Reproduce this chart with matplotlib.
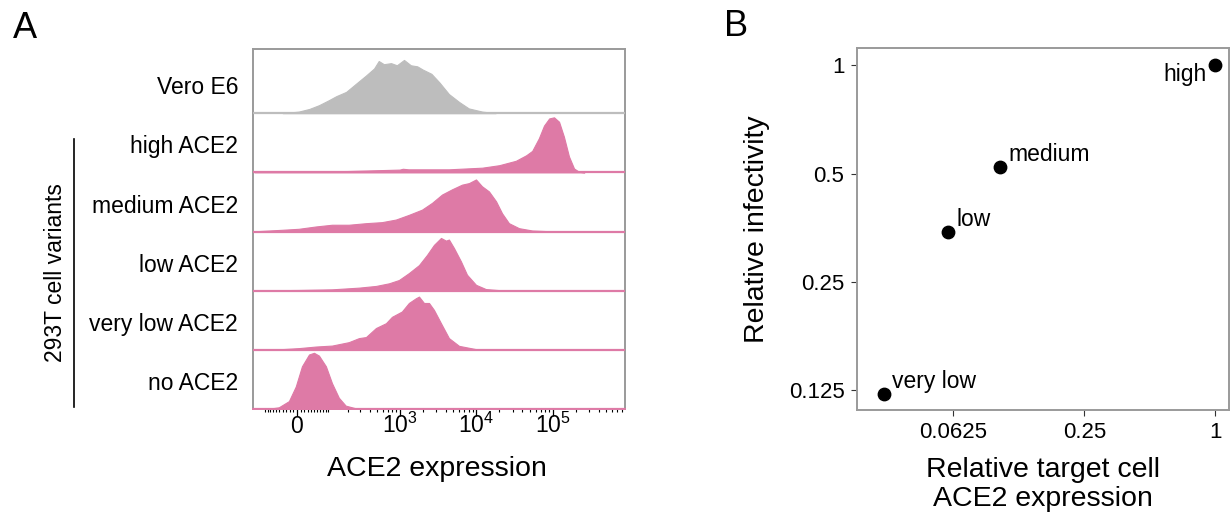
import matplotlib.pyplot as plt
from matplotlib.ticker import FixedLocator

plt.rcParams['font.family'] = ['Liberation Sans', 'DejaVu Sans']
plt.rcParams['mathtext.fontset'] = 'custom'
plt.rcParams['mathtext.rm'] = 'Liberation Sans'
plt.rcParams['mathtext.it'] = 'Liberation Sans:italic'

#%% Data - panel A: ACE2 histograms (x = ACE2 expression, y = % of mode)
row_names = ['Vero E6', 'high ACE2', 'medium ACE2', 'low ACE2', 'very low ACE2', 'no ACE2']

vero_x = [-40, 5, 35, 65, 100, 135, 190, 260, 360, 460, 530, 620, 770, 920, 1140,
          1400, 1700, 2000, 2600, 3300, 4400, 6000, 8000, 12000, 18000]
vero_y = [0, 3, 8, 15, 24, 32, 40, 55, 71, 84, 98, 92, 94, 90, 100,
          90, 88, 82, 74, 58, 36, 21, 9, 3, 0]

high_x = [-150, 5, 200, 1000, 1100, 1300, 4400, 12000, 20000, 33000, 45000, 54000,
          66000, 77000, 90000, 104000, 121000, 140000, 163000, 190000, 221000, 260000]
high_y = [1, 1.5, 2.4, 5, 6.5, 5.5, 5.5, 8.5, 13, 21, 31, 39,
          62, 85, 98, 100, 92, 65, 29, 7, 1, 0]

medium_x = [-140, -42, 5, 55, 115, 207, 358, 584, 893, 1320, 1960, 2650, 3580,
            4830, 6530, 8060, 9950, 11900, 14700, 18200, 21800, 26800, 36300, 53700, 89500]
medium_y = [0.6, 3.3, 5.2, 9.7, 13, 13, 16, 18, 23, 32, 42, 55, 71,
            81, 90, 93, 100, 87, 77, 58, 35, 16, 6.4, 2, 0.6]

low_x = [-140, 5, 115, 287, 487, 723, 978, 1320, 1790, 2275, 2810, 3470, 4030,
         4410, 5135, 6330, 7590, 9950, 13400, 21800]
low_y = [0.6, 1.3, 2.5, 5.7, 8.9, 13.8, 20, 33, 48, 67, 86, 99, 94,
         96, 80, 55, 30, 11, 3, 0.6]

verylow_x = [-140, -42, 5, 55, 115, 207, 287, 358, 487, 660, 792, 1070, 1320, 1635,
             1790, 2080, 2420, 2810, 3470, 4410, 5970, 9950, 14700]
verylow_y = [0, 1.3, 3.2, 6.2, 8, 14.4, 22, 24, 41, 50, 62, 72, 88, 97,
             100, 88, 88, 75, 50, 22, 7.5, 1.3, 0]

no_x = [-86, -52, -22, -3, 14, 34, 49, 65, 90, 115, 148, 187, 260, 392]
no_y = [0.5, 3, 14, 40, 76, 97, 100, 95, 76, 46, 20, 6, 1.2, 0]

major_ticks = [0, 1e3, 1e4, 1e5]
major_labels = ['0', r'$10^3$', r'$10^4$', r'$10^5$']
minor_ticks = ([-k * 10 for k in range(1, 11)] + [k * 10 for k in range(1, 10)]
               + [k * 100 for k in range(1, 10)] + [k * 1000 for k in range(2, 10)]
               + [k * 10000 for k in range(2, 10)] + [k * 100000 for k in range(2, 9)])

#%% Data - panel B
points = ['high', 'medium', 'low', 'very low']
rel_expression = [1.0, 0.103, 0.059, 0.030]
rel_infectivity = [1.0, 0.52, 0.344, 0.122]
b_xticks = [0.0625, 0.25, 1]
b_xticklabels = ['0.0625', '0.25', '1']
b_yticks = [0.125, 0.25, 0.5, 1]
b_yticklabels = ['0.125', '0.25', '0.5', '1']

#%% Figure
W, H = 1231, 518
fig = plt.figure(figsize=(W / 100, H / 100), dpi=100)

pink = '#DE7AA6'
grey_fill = '#BDBDBD'
frame = '#9A9A9A'

# Panel A: one axes, rows stacked with a baseline each
axa = fig.add_axes([253 / W, 1 - 409 / H, 372 / W, 360 / H])
axa.set_xscale('asinh', linear_width=91)

curves = [(vero_x, vero_y), (high_x, high_y), (medium_x, medium_y),
          (low_x, low_y), (verylow_x, verylow_y), (no_x, no_y)]
row_scale = [0.90, 0.93, 0.88, 0.90, 0.90, 0.95]
colors = [grey_fill] + [pink] * 5
n = len(curves)
for i, ((xs, ys), sc, col) in enumerate(zip(curves, row_scale, colors)):
    base = n - 1 - i
    tops = [base + v / 100 * sc for v in ys]
    axa.fill_between(xs, base, tops, color=col, lw=0.8, edgecolor=col, zorder=2)
    axa.axhline(base, color=col, lw=1.6, zorder=3)
    axa.text(-0.04, base + 0.43, row_names[i], transform=axa.get_yaxis_transform(),
             ha='right', va='center', fontsize=16.5)

axa.set_xlim(-158, 8.8e5)
axa.set_ylim(0, n - 1 + 1.085)
axa.set_yticks([])
axa.xaxis.set_major_locator(FixedLocator(major_ticks))
axa.xaxis.set_minor_locator(FixedLocator(minor_ticks))
axa.set_xticklabels(major_labels, fontsize=16.5)
axa.tick_params(axis='x', which='major', length=5, width=0.9, pad=12, color='black')
axa.tick_params(axis='x', which='minor', length=2.5, width=0.8, color='black')
for t in axa.xaxis.get_major_ticks():
    t.label1.set_va('baseline')
for side in ['top', 'left', 'right']:
    axa.spines[side].set_color(frame)
    axa.spines[side].set_linewidth(1.4)
axa.spines['bottom'].set_color(pink)
axa.spines['bottom'].set_linewidth(1.4)
axa.set_xlabel('ACE2 expression', fontsize=20.5)
axa.xaxis.set_label_coords(0.495, -0.13)

# bracket for the 293T variants
axa.plot([-0.481, -0.481], [0.03, 4.56], transform=axa.get_yaxis_transform(),
         color='black', lw=1.2, clip_on=False)
axa.text(-0.53, 2.3, '293T cell variants', transform=axa.get_yaxis_transform(),
         rotation=90, ha='center', va='center', fontsize=16.5)

# Panel B
axb = fig.add_axes([857 / W, 1 - 410 / H, 372 / W, 362 / H])
axb.set_xscale('log', base=2)
axb.set_yscale('log', base=2)
axb.scatter(rel_expression, rel_infectivity, s=80, color='black', zorder=3)
for name, x, y in zip(points, rel_expression, rel_infectivity):
    if name == 'high':
        axb.annotate(name, (x, y), xytext=(-6, -7), textcoords='offset points',
                     ha='right', va='center', fontsize=16.5)
    else:
        axb.annotate(name, (x, y), xytext=(6, 9), textcoords='offset points',
                     ha='left', va='center', fontsize=16.5)

axb.set_xlim(2 ** -5.47, 2 ** 0.21)
axb.set_ylim(2 ** -3.18, 2 ** 0.157)
axb.set_xticks(b_xticks, labels=b_xticklabels, fontsize=16)
axb.set_yticks(b_yticks, labels=b_yticklabels, fontsize=16)
axb.minorticks_off()
axb.tick_params(length=4, width=0.8, pad=5, color='#333333')
for side in axb.spines.values():
    side.set_color(frame)
    side.set_linewidth(1.4)
axb.set_xlabel('Relative target cell\nACE2 expression', fontsize=20.5, linespacing=1.15)
axb.xaxis.set_label_coords(0.5, -0.13)
axb.set_ylabel('Relative infectivity', fontsize=20.5)
axb.yaxis.set_label_coords(-0.235, 0.5)

fig.text(13 / W, 1 - 28 / H, 'A', fontsize=26, va='center', ha='left')
fig.text(724 / W, 1 - 27 / H, 'B', fontsize=26, va='center', ha='left')

fig.savefig('out.png', dpi=100)
